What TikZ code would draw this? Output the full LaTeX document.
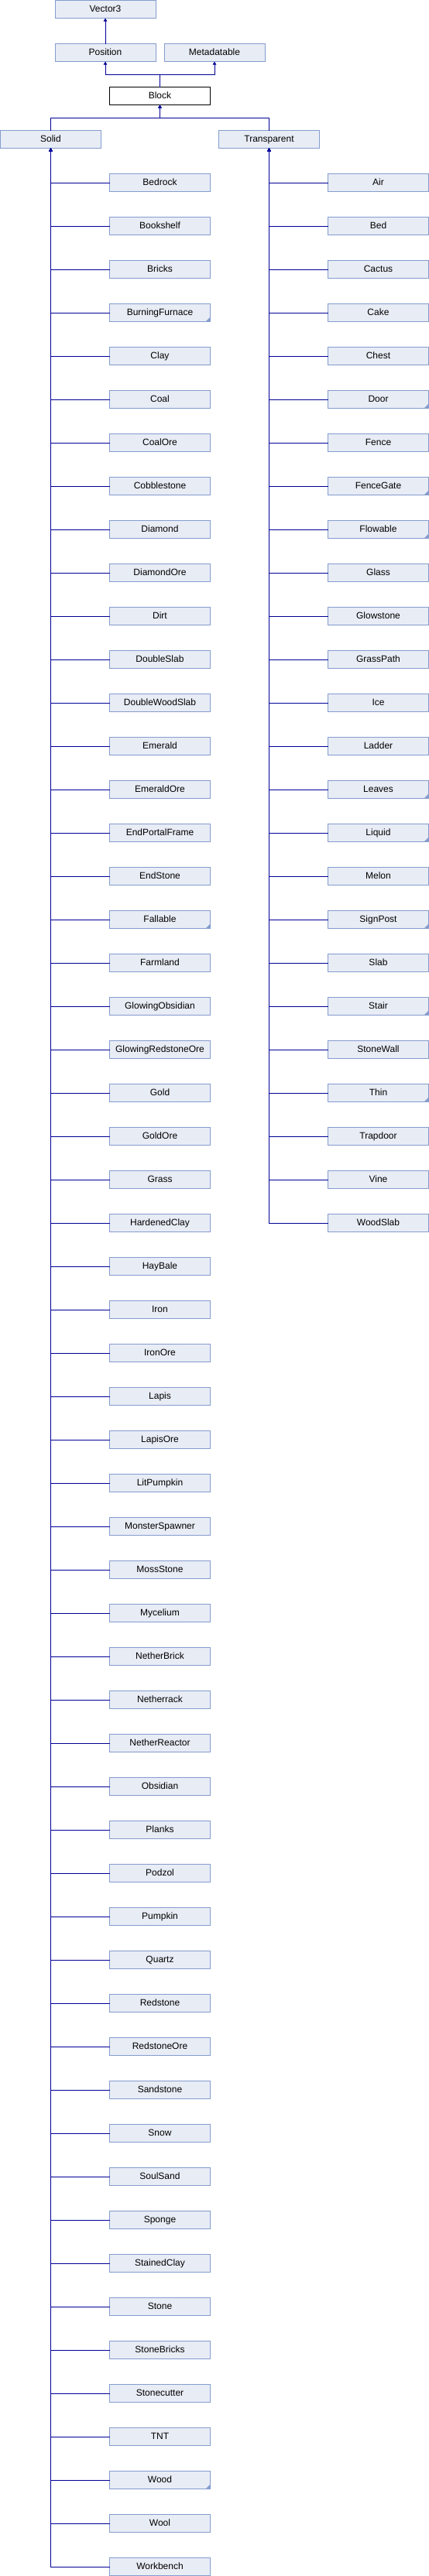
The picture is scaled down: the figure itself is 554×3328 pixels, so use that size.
\documentclass[tikz,border=0pt]{standalone}
\usepackage{fontspec}
\setmainfont{Liberation Sans}
\usepackage{tikz}
\usetikzlibrary{arrows.meta}

\definecolor{boxfill}{RGB}{232,236,245}
\definecolor{boxline}{RGB}{132,156,206}
\definecolor{linkblue}{RGB}{0,0,150}

\tikzset{
  cls/.style={draw=boxline, fill=boxfill, line width=1pt, minimum width=130pt, minimum height=23pt,
    inner sep=0pt, outer sep=0pt, text height=8.6pt, text depth=2.4pt, font=\fontsize{12}{14}\selectfont},
  clsmore/.style={cls, path picture={\fill[boxline] (path picture bounding box.south east) -- +(-6,0) -- +(0,6) -- cycle;}},
  link/.style={draw=linkblue, line width=1pt, ->},
}

\begin{document}
\begin{tikzpicture}[x=1pt, y=1pt, >={Triangle[width=4.5pt,length=4pt]}]
			\useasboundingbox (0,0) rectangle (554,-3328);
			\node[cls] (vector) at (136,-12) {Vector3};
			\node[cls] (position) at (136,-68) {Position};
			\node[cls] (metadatable) at (277,-68) {Metadatable};
			\node[cls, draw=black, fill=white] (block) at (206.5,-124) {Block};
			\node[cls] (solid) at (65.5,-180) {Solid};
			\node[cls] (transparent) at (347.5,-180) {Transparent};
			\draw[link] (position) -- (vector);
			\draw[link] (block.north) -- +(0,16) -| (position.south);
			\draw[link] (block.north) -- +(0,16) -| (metadatable.south);
			\draw[link] (solid.north) -- +(0,16) -| (block.south);
			\draw[link] (transparent.north) -- +(0,16) -| (block.south);
			% solid blocks
			\node[cls] (bedrock) at (206.5,-236) {Bedrock};
			\draw[link] (bedrock.west) -| (solid.south);
			\node[cls] (bookshelf) at (206.5,-292) {Bookshelf};
			\draw[link] (bookshelf.west) -| (solid.south);
			\node[cls] (bricks) at (206.5,-348) {Bricks};
			\draw[link] (bricks.west) -| (solid.south);
			\node[clsmore] (burningfurnace) at (206.5,-404) {BurningFurnace};
			\draw[link] (burningfurnace.west) -| (solid.south);
			\node[cls] (clay) at (206.5,-460) {Clay};
			\draw[link] (clay.west) -| (solid.south);
			\node[cls] (coal) at (206.5,-516) {Coal};
			\draw[link] (coal.west) -| (solid.south);
			\node[cls] (coalore) at (206.5,-572) {CoalOre};
			\draw[link] (coalore.west) -| (solid.south);
			\node[cls] (cobblestone) at (206.5,-628) {Cobblestone};
			\draw[link] (cobblestone.west) -| (solid.south);
			\node[cls] (diamond) at (206.5,-684) {Diamond};
			\draw[link] (diamond.west) -| (solid.south);
			\node[cls] (diamondore) at (206.5,-740) {DiamondOre};
			\draw[link] (diamondore.west) -| (solid.south);
			\node[cls] (dirt) at (206.5,-796) {Dirt};
			\draw[link] (dirt.west) -| (solid.south);
			\node[cls] (doubleslab) at (206.5,-852) {DoubleSlab};
			\draw[link] (doubleslab.west) -| (solid.south);
			\node[cls] (doublewoodslab) at (206.5,-908) {DoubleWoodSlab};
			\draw[link] (doublewoodslab.west) -| (solid.south);
			\node[cls] (emerald) at (206.5,-964) {Emerald};
			\draw[link] (emerald.west) -| (solid.south);
			\node[cls] (emeraldore) at (206.5,-1020) {EmeraldOre};
			\draw[link] (emeraldore.west) -| (solid.south);
			\node[cls] (endportalframe) at (206.5,-1076) {EndPortalFrame};
			\draw[link] (endportalframe.west) -| (solid.south);
			\node[cls] (endstone) at (206.5,-1132) {EndStone};
			\draw[link] (endstone.west) -| (solid.south);
			\node[clsmore] (fallable) at (206.5,-1188) {Fallable};
			\draw[link] (fallable.west) -| (solid.south);
			\node[cls] (farmland) at (206.5,-1244) {Farmland};
			\draw[link] (farmland.west) -| (solid.south);
			\node[cls] (glowingobsidian) at (206.5,-1300) {GlowingObsidian};
			\draw[link] (glowingobsidian.west) -| (solid.south);
			\node[cls] (glowingredstoneore) at (206.5,-1356) {GlowingRedstoneOre};
			\draw[link] (glowingredstoneore.west) -| (solid.south);
			\node[cls] (gold) at (206.5,-1412) {Gold};
			\draw[link] (gold.west) -| (solid.south);
			\node[cls] (goldore) at (206.5,-1468) {GoldOre};
			\draw[link] (goldore.west) -| (solid.south);
			\node[cls] (grass) at (206.5,-1524) {Grass};
			\draw[link] (grass.west) -| (solid.south);
			\node[cls] (hardenedclay) at (206.5,-1580) {HardenedClay};
			\draw[link] (hardenedclay.west) -| (solid.south);
			\node[cls] (haybale) at (206.5,-1636) {HayBale};
			\draw[link] (haybale.west) -| (solid.south);
			\node[cls] (iron) at (206.5,-1692) {Iron};
			\draw[link] (iron.west) -| (solid.south);
			\node[cls] (ironore) at (206.5,-1748) {IronOre};
			\draw[link] (ironore.west) -| (solid.south);
			\node[cls] (lapis) at (206.5,-1804) {Lapis};
			\draw[link] (lapis.west) -| (solid.south);
			\node[cls] (lapisore) at (206.5,-1860) {LapisOre};
			\draw[link] (lapisore.west) -| (solid.south);
			\node[cls] (litpumpkin) at (206.5,-1916) {LitPumpkin};
			\draw[link] (litpumpkin.west) -| (solid.south);
			\node[cls] (monsterspawner) at (206.5,-1972) {MonsterSpawner};
			\draw[link] (monsterspawner.west) -| (solid.south);
			\node[cls] (mossstone) at (206.5,-2028) {MossStone};
			\draw[link] (mossstone.west) -| (solid.south);
			\node[cls] (mycelium) at (206.5,-2084) {Mycelium};
			\draw[link] (mycelium.west) -| (solid.south);
			\node[cls] (netherbrick) at (206.5,-2140) {NetherBrick};
			\draw[link] (netherbrick.west) -| (solid.south);
			\node[cls] (netherrack) at (206.5,-2196) {Netherrack};
			\draw[link] (netherrack.west) -| (solid.south);
			\node[cls] (netherreactor) at (206.5,-2252) {NetherReactor};
			\draw[link] (netherreactor.west) -| (solid.south);
			\node[cls] (obsidian) at (206.5,-2308) {Obsidian};
			\draw[link] (obsidian.west) -| (solid.south);
			\node[cls] (planks) at (206.5,-2364) {Planks};
			\draw[link] (planks.west) -| (solid.south);
			\node[cls] (podzol) at (206.5,-2420) {Podzol};
			\draw[link] (podzol.west) -| (solid.south);
			\node[cls] (pumpkin) at (206.5,-2476) {Pumpkin};
			\draw[link] (pumpkin.west) -| (solid.south);
			\node[cls] (quartz) at (206.5,-2532) {Quartz};
			\draw[link] (quartz.west) -| (solid.south);
			\node[cls] (redstone) at (206.5,-2588) {Redstone};
			\draw[link] (redstone.west) -| (solid.south);
			\node[cls] (redstoneore) at (206.5,-2644) {RedstoneOre};
			\draw[link] (redstoneore.west) -| (solid.south);
			\node[cls] (sandstone) at (206.5,-2700) {Sandstone};
			\draw[link] (sandstone.west) -| (solid.south);
			\node[cls] (snow) at (206.5,-2756) {Snow};
			\draw[link] (snow.west) -| (solid.south);
			\node[cls] (soulsand) at (206.5,-2812) {SoulSand};
			\draw[link] (soulsand.west) -| (solid.south);
			\node[cls] (sponge) at (206.5,-2868) {Sponge};
			\draw[link] (sponge.west) -| (solid.south);
			\node[cls] (stainedclay) at (206.5,-2924) {StainedClay};
			\draw[link] (stainedclay.west) -| (solid.south);
			\node[cls] (stone) at (206.5,-2980) {Stone};
			\draw[link] (stone.west) -| (solid.south);
			\node[cls] (stonebricks) at (206.5,-3036) {StoneBricks};
			\draw[link] (stonebricks.west) -| (solid.south);
			\node[cls] (stonecutter) at (206.5,-3092) {Stonecutter};
			\draw[link] (stonecutter.west) -| (solid.south);
			\node[cls] (tnt) at (206.5,-3148) {TNT};
			\draw[link] (tnt.west) -| (solid.south);
			\node[clsmore] (wood) at (206.5,-3204) {Wood};
			\draw[link] (wood.west) -| (solid.south);
			\node[cls] (wool) at (206.5,-3260) {Wool};
			\draw[link] (wool.west) -| (solid.south);
			\node[cls] (workbench) at (206.5,-3316) {Workbench};
			\draw[link] (workbench.west) -| (solid.south);
			% transparent blocks
			\node[cls] (air) at (488.5,-236) {Air};
			\draw[link] (air.west) -| (transparent.south);
			\node[cls] (bed) at (488.5,-292) {Bed};
			\draw[link] (bed.west) -| (transparent.south);
			\node[cls] (cactus) at (488.5,-348) {Cactus};
			\draw[link] (cactus.west) -| (transparent.south);
			\node[cls] (cake) at (488.5,-404) {Cake};
			\draw[link] (cake.west) -| (transparent.south);
			\node[cls] (chest) at (488.5,-460) {Chest};
			\draw[link] (chest.west) -| (transparent.south);
			\node[clsmore] (door) at (488.5,-516) {Door};
			\draw[link] (door.west) -| (transparent.south);
			\node[cls] (fence) at (488.5,-572) {Fence};
			\draw[link] (fence.west) -| (transparent.south);
			\node[clsmore] (fencegate) at (488.5,-628) {FenceGate};
			\draw[link] (fencegate.west) -| (transparent.south);
			\node[clsmore] (flowable) at (488.5,-684) {Flowable};
			\draw[link] (flowable.west) -| (transparent.south);
			\node[cls] (glass) at (488.5,-740) {Glass};
			\draw[link] (glass.west) -| (transparent.south);
			\node[cls] (glowstone) at (488.5,-796) {Glowstone};
			\draw[link] (glowstone.west) -| (transparent.south);
			\node[cls] (grasspath) at (488.5,-852) {GrassPath};
			\draw[link] (grasspath.west) -| (transparent.south);
			\node[cls] (ice) at (488.5,-908) {Ice};
			\draw[link] (ice.west) -| (transparent.south);
			\node[cls] (ladder) at (488.5,-964) {Ladder};
			\draw[link] (ladder.west) -| (transparent.south);
			\node[clsmore] (leaves) at (488.5,-1020) {Leaves};
			\draw[link] (leaves.west) -| (transparent.south);
			\node[clsmore] (liquid) at (488.5,-1076) {Liquid};
			\draw[link] (liquid.west) -| (transparent.south);
			\node[cls] (melon) at (488.5,-1132) {Melon};
			\draw[link] (melon.west) -| (transparent.south);
			\node[clsmore] (signpost) at (488.5,-1188) {SignPost};
			\draw[link] (signpost.west) -| (transparent.south);
			\node[cls] (slab) at (488.5,-1244) {Slab};
			\draw[link] (slab.west) -| (transparent.south);
			\node[clsmore] (stair) at (488.5,-1300) {Stair};
			\draw[link] (stair.west) -| (transparent.south);
			\node[cls] (stonewall) at (488.5,-1356) {StoneWall};
			\draw[link] (stonewall.west) -| (transparent.south);
			\node[clsmore] (thin) at (488.5,-1412) {Thin};
			\draw[link] (thin.west) -| (transparent.south);
			\node[cls] (trapdoor) at (488.5,-1468) {Trapdoor};
			\draw[link] (trapdoor.west) -| (transparent.south);
			\node[cls] (vine) at (488.5,-1524) {Vine};
			\draw[link] (vine.west) -| (transparent.south);
			\node[cls] (woodslab) at (488.5,-1580) {WoodSlab};
			\draw[link] (woodslab.west) -| (transparent.south);
\end{tikzpicture}
\end{document}
